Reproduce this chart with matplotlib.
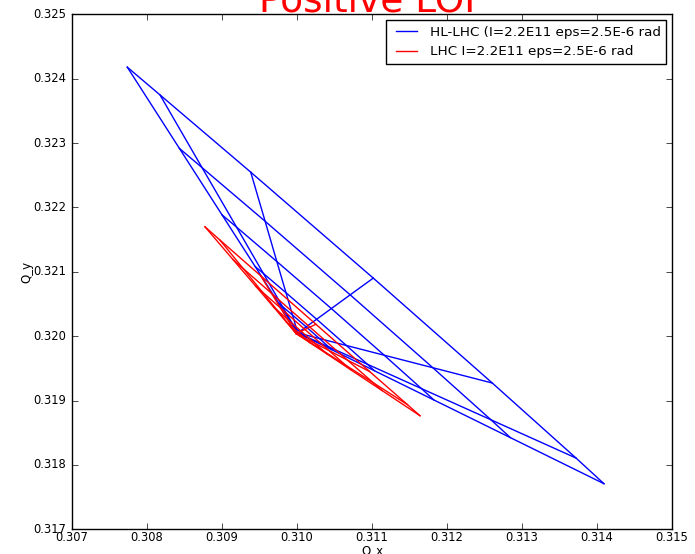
import matplotlib
matplotlib.use("Agg")
import matplotlib.pyplot as plt

# Detuning footprints: tunes on a polar amplitude grid (1..6 sigma, 0..90 deg in 15 deg steps)
angles_deg = [0, 15, 30, 45, 60, 75, 90]
amplitudes_sigma = [1, 2, 3, 4, 5, 6]

# HL-LHC footprint: zero-amplitude tune and tunes per amplitude ring (rows) and angle (columns)
hl_q0 = (0.31001, 0.32005)
hl_qx = [
    [0.310123, 0.310113, 0.310082, 0.310038, 0.309993, 0.309959, 0.309947],
    [0.310464, 0.310422, 0.310298, 0.310122, 0.309940, 0.309806, 0.309757],
    [0.311031, 0.310938, 0.310659, 0.310262, 0.309853, 0.309551, 0.309442],
    [0.311825, 0.311659, 0.311163, 0.310458, 0.309731, 0.309194, 0.309000],
    [0.312845, 0.312586, 0.311811, 0.310709, 0.309575, 0.308734, 0.308432],
    [0.314093, 0.313720, 0.312604, 0.311017, 0.309383, 0.308173, 0.307737],
]
hl_qy = [
    [0.319985, 0.319996, 0.320028, 0.320074, 0.320119, 0.320153, 0.320165],
    [0.319790, 0.319834, 0.319964, 0.320145, 0.320328, 0.320461, 0.320509],
    [0.319464, 0.319564, 0.319855, 0.320263, 0.320675, 0.320975, 0.321082],
    [0.319009, 0.319186, 0.319704, 0.320429, 0.321160, 0.321694, 0.321885],
    [0.318424, 0.318701, 0.319510, 0.320642, 0.321785, 0.322618, 0.322917],
    [0.317708, 0.318107, 0.319272, 0.320902, 0.322548, 0.323748, 0.324179],
]

# LHC footprint
lhc_q0 = (0.30999, 0.32004)
lhc_qx = [
    [0.310036, 0.310031, 0.310017, 0.309997, 0.309977, 0.309962, 0.309956],
    [0.310173, 0.310155, 0.310099, 0.310019, 0.309937, 0.309877, 0.309855],
    [0.310403, 0.310360, 0.310235, 0.310056, 0.309871, 0.309735, 0.309686],
    [0.310723, 0.310648, 0.310425, 0.310106, 0.309779, 0.309536, 0.309449],
    [0.311136, 0.311018, 0.310670, 0.310172, 0.309661, 0.309281, 0.309145],
    [0.311640, 0.311471, 0.310969, 0.310252, 0.309516, 0.308969, 0.308773],
]
lhc_qy = [
    [0.320005, 0.320009, 0.320024, 0.320044, 0.320065, 0.320080, 0.320086],
    [0.319898, 0.319918, 0.319974, 0.320056, 0.320140, 0.320202, 0.320224],
    [0.319721, 0.319764, 0.319892, 0.320076, 0.320265, 0.320404, 0.320455],
    [0.319473, 0.319550, 0.319778, 0.320104, 0.320439, 0.320688, 0.320777],
    [0.319154, 0.319275, 0.319630, 0.320141, 0.320664, 0.321052, 0.321192],
    [0.318764, 0.318938, 0.319450, 0.320185, 0.320938, 0.321497, 0.321699],
]

labels = ["HL-LHC (I=2.2E11 eps=2.5E-6 rad", "LHC I=2.2E11 eps=2.5E-6 rad"]
colors = ["b", "r"]

xticks = [0.307, 0.308, 0.309, 0.310, 0.311, 0.312, 0.313, 0.314, 0.315]
yticks = [0.317, 0.318, 0.319, 0.320, 0.321, 0.322, 0.323, 0.324, 0.325]

plt.style.use("classic")
plt.rcParams["font.family"] = "DejaVu Sans"

fig = plt.figure(figsize=(6.95, 5.54), dpi=100, facecolor="white")
ax = fig.add_axes([0.1036, 0.0446, 0.8633, 0.9296])


def draw_footprint(q0, qx, qy, color, label):
    first = True
    # lines of constant amplitude
    for row_x, row_y in zip(qx, qy):
        ax.plot(row_x, row_y, color=color, lw=1.0,
                label=label if first else None)
        first = False
    # lines of constant angle, starting from the zero-amplitude tune
    for j in range(len(angles_deg)):
        col_x = [q0[0]] + [row[j] for row in qx]
        col_y = [q0[1]] + [row[j] for row in qy]
        ax.plot(col_x, col_y, color=color, lw=1.0)


draw_footprint(hl_q0, hl_qx, hl_qy, colors[0], labels[0])
draw_footprint(lhc_q0, lhc_qx, lhc_qy, colors[1], labels[1])

ax.set_xlim(0.307, 0.315)
ax.set_ylim(0.317, 0.325)
ax.set_xticks(xticks)
ax.set_yticks(yticks)
ax.set_xticklabels([f"{v:.3f}" for v in xticks])
ax.set_yticklabels([f"{v:.3f}" for v in yticks])
ax.tick_params(labelsize=8.3)
ax.tick_params(axis="x", pad=1.5)
ax.set_xlabel("Q_x", fontsize=8.5, labelpad=0)
ax.set_ylabel("Q_y", fontsize=8.5, labelpad=0)
ax.set_title("Positive LOF", color="r", fontsize=27, pad=2)

ax.legend(loc="upper right", fontsize=9.7, frameon=True, fancybox=False,
          borderaxespad=0.45, handlelength=2.2, handletextpad=0.6)

fig.savefig("out.png", dpi=100, facecolor="white")
